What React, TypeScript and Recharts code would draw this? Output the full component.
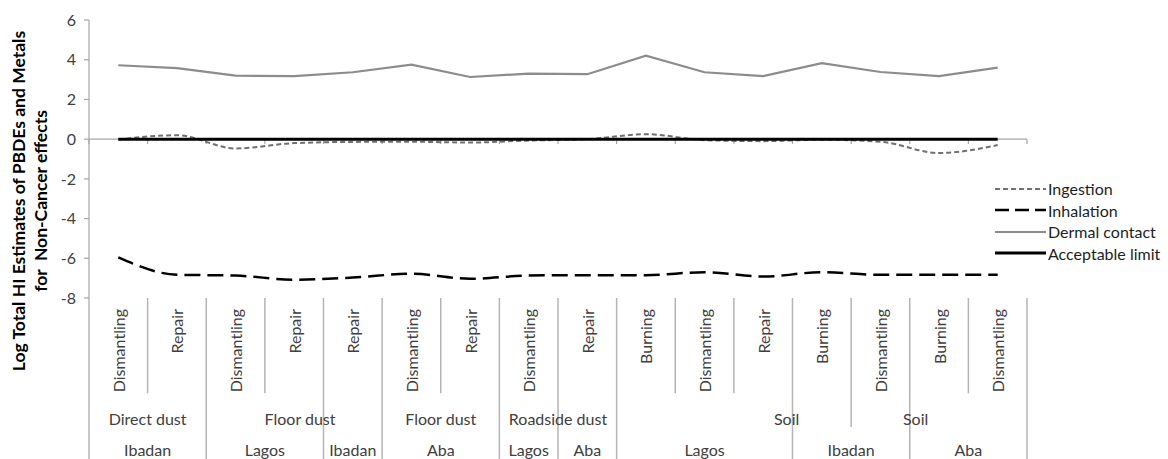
import { LineChart, Line, XAxis, YAxis, ReferenceLine } from "recharts";

// Activity (innermost axis level), one per point
const ACTIVITIES = [
  "Dismantling", "Repair", "Dismantling", "Repair", "Repair", "Dismantling", "Repair", "Dismantling",
  "Repair", "Burning", "Dismantling", "Repair", "Burning", "Dismantling", "Burning", "Dismantling",
];

// Sample medium (middle axis level)
const MEDIA = ["Direct dust", "Floor dust", "Floor dust", "Roadside dust", "Soil", "Soil"];

// Location (outer axis level) and the category span each one covers
const SITES = ["Ibadan", "Lagos", "Ibadan", "Aba", "Lagos", "Aba", "Lagos", "Ibadan", "Aba"];
const SITE_SPANS = [[0, 2], [2, 4], [4, 5], [5, 7], [7, 8], [8, 9], [9, 12], [12, 14], [14, 16]];

// log10 hazard index per exposure route
const INGESTION = [-0.02, 0.2, -0.47, -0.2, -0.14, -0.13, -0.17, -0.07, 0.0, 0.25, -0.05, -0.1, -0.03, -0.13, -0.7, -0.3];
const INHALATION = [-5.95, -6.83, -6.87, -7.08, -6.97, -6.78, -7.03, -6.87, -6.85, -6.85, -6.7, -6.92, -6.7, -6.83, -6.83, -6.83];
const DERMAL = [3.72, 3.58, 3.2, 3.17, 3.37, 3.75, 3.13, 3.3, 3.27, 4.2, 3.37, 3.17, 3.83, 3.38, 3.17, 3.6];
const LIMIT = [0, 0, 0, 0, 0, 0, 0, 0, 0, 0, 0, 0, 0, 0, 0, 0];

const Y_TICKS = [-8, -6, -4, -2, 0, 2, 4, 6];

// layout of the multi-level category axis
const X_DOMAIN: [number, number] = [-0.5, 15.5];
const MEDIA_AT = [0.5, 3.1, 5.5, 7.5, 11.4, 13.6];
const SEPARATORS = ["full", "short", "full", "short", "full", "full", "short", "full", "full", "full", "short", "short", "full", "mid", "full", "short", "full"];
const SEPARATOR_END: Record<string, number> = { short: -12.8, mid: -14.5, full: -16.3 };

const FONT = "Lato, 'Open Sans', sans-serif";
const AXIS_GREY = "#a6a6a6";
const TEXT = "#404040";

const data = ACTIVITIES.map((activity, i) => ({
  i,
  activity,
  ingestion: INGESTION[i],
  inhalation: INHALATION[i],
  dermal: DERMAL[i],
  limit: LIMIT[i],
}));

const LEGEND = [
  { name: "Ingestion", stroke: "#707070", width: 2, dash: "5 3" },
  { name: "Inhalation", stroke: "#000000", width: 2.5, dash: "14 6" },
  { name: "Dermal contact", stroke: "#8c8c8c", width: 2.2, dash: undefined },
  { name: "Acceptable limit", stroke: "#000000", width: 3, dash: undefined },
];

const ActivityTick = ({ x, y, payload }: any) => (
  <text
    x={x}
    y={y + 11}
    transform={`rotate(-90 ${x} ${y + 11})`}
    textAnchor="end"
    dominantBaseline="central"
    fontSize={16}
    fontFamily={FONT}
    fill={TEXT}
  >
    {ACTIVITIES[payload.value]}
  </text>
);

const MediumTick = ({ x, y, index }: any) => (
  <text x={x} y={y + 25} textAnchor="middle" dominantBaseline="central" fontSize={16} fontFamily={FONT} fill={TEXT}>
    {MEDIA[index]}
  </text>
);

const SiteTick = ({ x, y, index }: any) => (
  <text x={x} y={y + 21} textAnchor="middle" dominantBaseline="central" fontSize={16} fontFamily={FONT} fill={TEXT}>
    {SITES[index]}
  </text>
);

const YTitle = ({ viewBox }: any) => {
  const cy = viewBox.y + viewBox.height / 2 + 42;
  return (
    <g fontFamily={FONT} fontWeight="bold" fontSize={17.5} fill="#000">
      <text x={18} y={cy} transform={`rotate(-90 18 ${cy})`} textAnchor="middle" dominantBaseline="central">
        Log Total HI Estimates of PBDEs and Metals
      </text>
      <text x={40} y={cy} transform={`rotate(-90 40 ${cy})`} textAnchor="middle" dominantBaseline="central" style={{ whiteSpace: "pre" }}>
        {"for  Non-Cancer effects"}
      </text>
    </g>
  );
};

export default function App() {
  return (
    <div style={{ position: "fixed", left: 0, top: 0, width: 1168, height: 459, overflow: "hidden", background: "#fff" }}>
      <LineChart width={1168} height={459} data={data} margin={{ top: 20, right: 141, bottom: 0, left: 0 }}>
        <YAxis
          width={89}
          domain={[-8, 6]}
          ticks={Y_TICKS}
          allowDataOverflow
          axisLine={{ stroke: AXIS_GREY, strokeWidth: 1.2 }}
          tickLine={{ stroke: AXIS_GREY, strokeWidth: 1.2 }}
          tickSize={5}
          tickMargin={8}
          tick={{ fontSize: 16, fontFamily: FONT, fill: TEXT }}
          label={{ content: (p: any) => <YTitle {...p} /> }}
        />
        <XAxis
          xAxisId="cat"
          dataKey="i"
          type="number"
          domain={X_DOMAIN}
          allowDataOverflow
          ticks={ACTIVITIES.map((_, i) => i)}
          interval={0}
          height={95}
          axisLine={false}
          tickLine={false}
          tickSize={0}
          tickMargin={0}
          tick={<ActivityTick />}
        />
        <XAxis
          xAxisId="medium"
          dataKey="i"
          type="number"
          domain={X_DOMAIN}
          allowDataOverflow
          ticks={MEDIA_AT}
          interval={0}
          height={35}
          axisLine={false}
          tickLine={false}
          tickSize={0}
          tickMargin={0}
          tick={<MediumTick />}
        />
        <XAxis
          xAxisId="site"
          dataKey="i"
          type="number"
          domain={X_DOMAIN}
          allowDataOverflow
          ticks={SITE_SPANS.map(([a, b]) => (a + b) / 2 - 0.5)}
          interval={0}
          height={31}
          axisLine={false}
          tickLine={false}
          tickSize={0}
          tickMargin={0}
          tick={<SiteTick />}
        />

        {/* horizontal category axis crossing at zero, with ticks between categories */}
        <ReferenceLine xAxisId="cat" y={0} stroke={AXIS_GREY} strokeWidth={1.2} ifOverflow="visible" />
        {SEPARATORS.map((_, k) => (
          <ReferenceLine
            key={`t${k}`}
            xAxisId="cat"
            segment={[{ x: k - 0.5, y: 0 }, { x: k - 0.5, y: -0.25 }]}
            stroke={AXIS_GREY}
            strokeWidth={1.2}
            ifOverflow="visible"
          />
        ))}
        {/* group separators of the multi-level labels */}
        {SEPARATORS.map((kind, k) => (
          <ReferenceLine
            key={`s${k}`}
            xAxisId="cat"
            segment={[{ x: k - 0.5, y: -8 }, { x: k - 0.5, y: SEPARATOR_END[kind] }]}
            stroke="#b4b4b4"
            strokeWidth={1.5}
            ifOverflow="visible"
          />
        ))}

        <Line xAxisId="cat" type="monotone" dataKey="ingestion" stroke="#707070" strokeWidth={2} strokeDasharray="5 3" dot={false} isAnimationActive={false} />
        <Line xAxisId="cat" type="monotone" dataKey="inhalation" stroke="#000" strokeWidth={2.5} strokeDasharray="16 7" dot={false} isAnimationActive={false} />
        <Line xAxisId="cat" type="linear" dataKey="dermal" stroke="#8c8c8c" strokeWidth={2.2} dot={false} isAnimationActive={false} />
        <Line xAxisId="cat" type="linear" dataKey="limit" stroke="#000" strokeWidth={3} dot={false} isAnimationActive={false} />
      </LineChart>

      <div style={{ position: "absolute", left: 995, top: 178, width: 173, fontFamily: FONT, fontSize: 16, color: "#1e1e1e" }}>
        {LEGEND.map((s) => (
          <div key={s.name} style={{ display: "flex", alignItems: "center", height: 21.5 }}>
            <svg width={51} height={6} style={{ marginRight: 2, flexShrink: 0 }}>
              <line x1={0} y1={3} x2={51} y2={3} stroke={s.stroke} strokeWidth={s.width} strokeDasharray={s.dash} />
            </svg>
            <span style={{ whiteSpace: "nowrap" }}>{s.name}</span>
          </div>
        ))}
      </div>
    </div>
  );
}
